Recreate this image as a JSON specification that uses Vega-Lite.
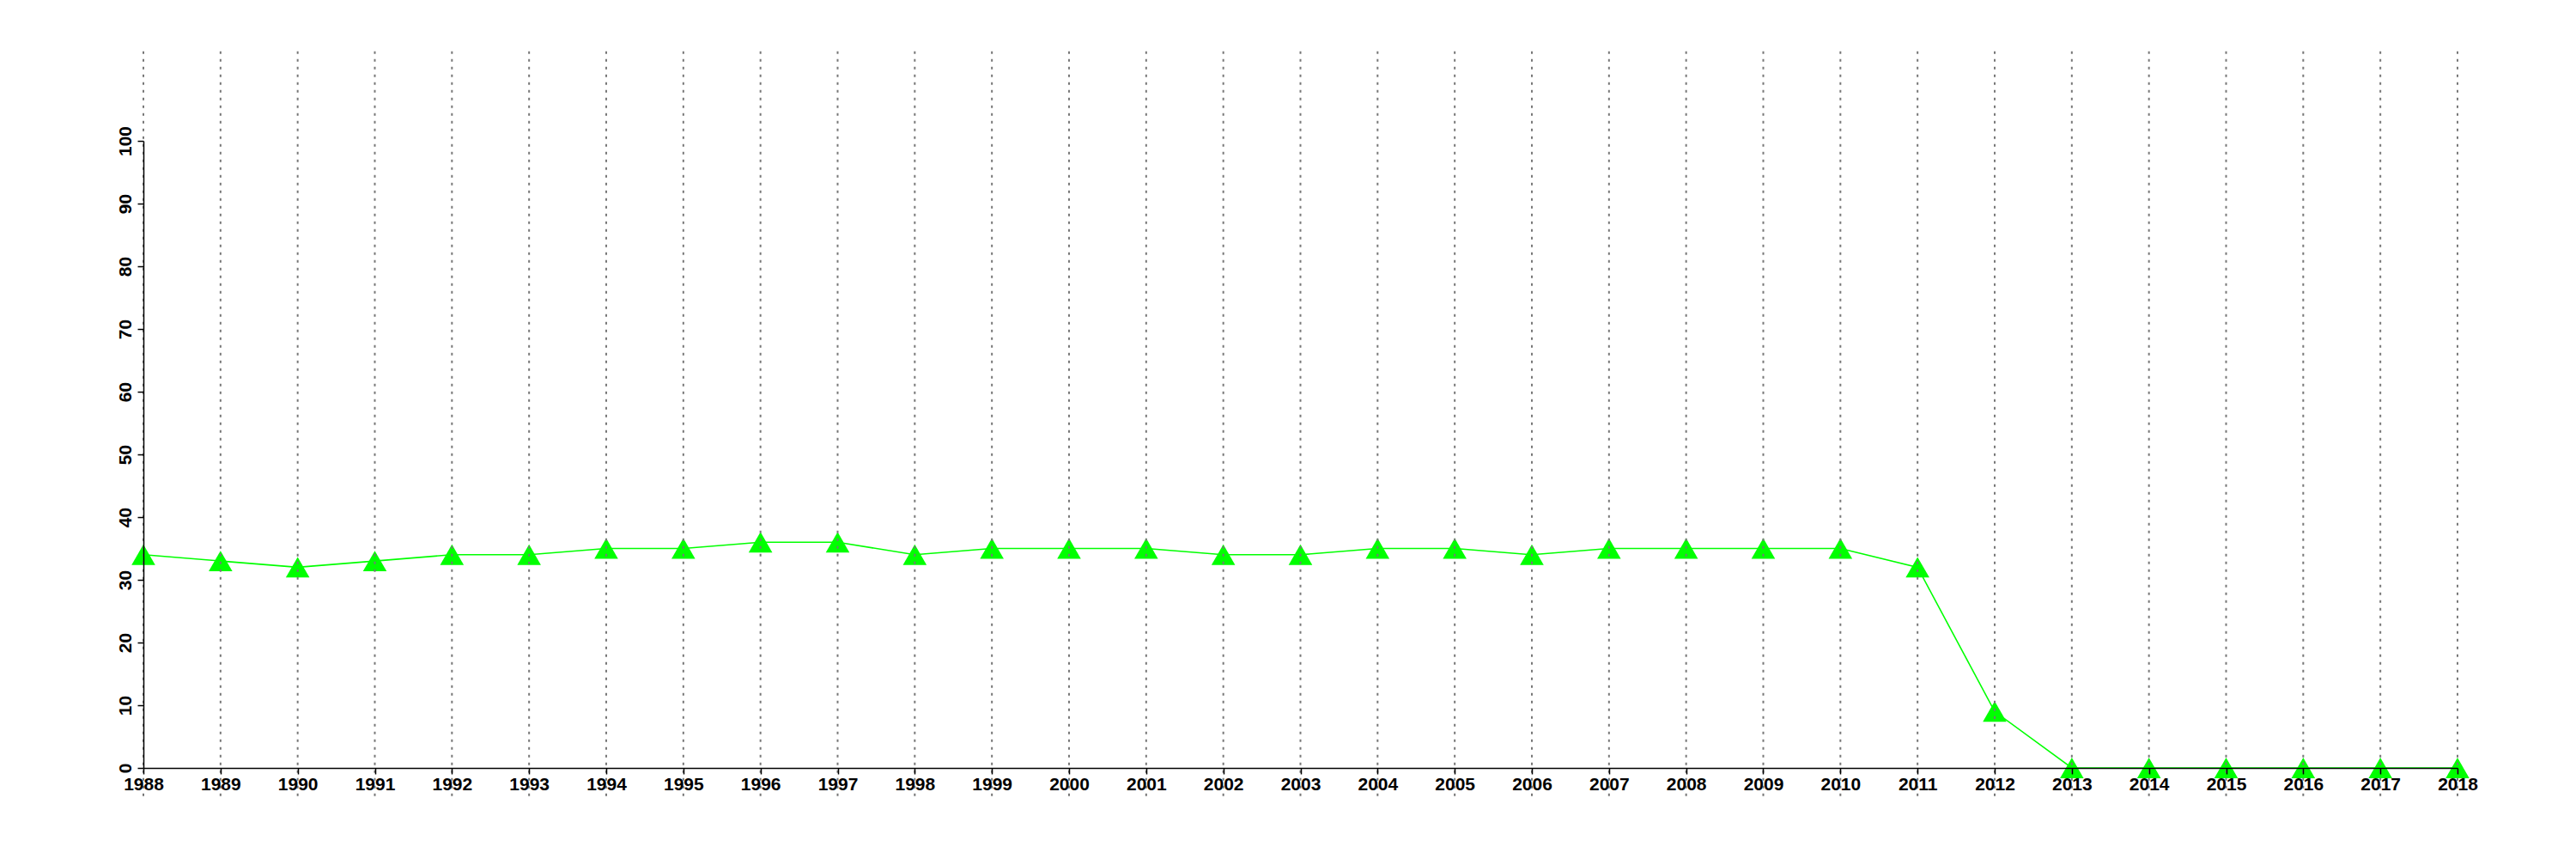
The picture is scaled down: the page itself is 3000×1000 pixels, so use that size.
{
  "$schema": "https://vega.github.io/schema/vega-lite/v6.json",
  "autosize": {"type": "none"},
  "padding": {"left": 167, "top": 164, "right": 138, "bottom": 106},
  "width": 2695,
  "height": 730,
  "background": "white",
  "config": {
    "view": {"stroke": null},
    "axis": {
      "labelFont": "Liberation Sans",
      "labelFontSize": 21,
      "labelFontWeight": "bold",
      "labelColor": "black",
      "tickColor": "black",
      "tickSize": 7,
      "tickWidth": 1.5,
      "domainColor": "black",
      "domainWidth": 1.5,
      "grid": false,
      "title": null
    }
  },
  "data": {
    "values": [
      {"year": 1988, "value": 34},
      {"year": 1989, "value": 33},
      {"year": 1990, "value": 32},
      {"year": 1991, "value": 33},
      {"year": 1992, "value": 34},
      {"year": 1993, "value": 34},
      {"year": 1994, "value": 35},
      {"year": 1995, "value": 35},
      {"year": 1996, "value": 36},
      {"year": 1997, "value": 36},
      {"year": 1998, "value": 34},
      {"year": 1999, "value": 35},
      {"year": 2000, "value": 35},
      {"year": 2001, "value": 35},
      {"year": 2002, "value": 34},
      {"year": 2003, "value": 34},
      {"year": 2004, "value": 35},
      {"year": 2005, "value": 35},
      {"year": 2006, "value": 34},
      {"year": 2007, "value": 35},
      {"year": 2008, "value": 35},
      {"year": 2009, "value": 35},
      {"year": 2010, "value": 35},
      {"year": 2011, "value": 32},
      {"year": 2012, "value": 9},
      {"year": 2013, "value": 0},
      {"year": 2014, "value": 0},
      {"year": 2015, "value": 0},
      {"year": 2016, "value": 0},
      {"year": 2017, "value": 0},
      {"year": 2018, "value": 0}
    ]
  },
  "layer": [
    {
      "mark": {"type": "line", "color": "#00FF00", "strokeWidth": 1.6},
      "encoding": {
        "x": {
          "field": "year", "type": "quantitative",
          "scale": {"domain": [1988, 2018], "nice": false, "zero": false},
          "axis": {
            "values": [1988,1989,1990,1991,1992,1993,1994,1995,1996,1997,1998,1999,2000,2001,2002,2003,2004,2005,2006,2007,2008,2009,2010,2011,2012,2013,2014,2015,2016,2017,2018],
            "format": "d",
            "labelPadding": 1,
            "labelFlush": false,
            "labelOverlap": false,
            "zindex": 1
          }
        },
        "y": {
          "field": "value", "type": "quantitative",
          "scale": {"domain": [0, 100], "nice": false},
          "axis": {
            "values": [0,10,20,30,40,50,60,70,80,90,100],
            "labelAngle": 270,
            "labelAlign": "center",
            "labelBaseline": "bottom",
            "labelPadding": 4,
            "labelFlush": false,
            "labelOverlap": false,
            "zindex": 1
          }
        }
      }
    },
    {
      "mark": {"type": "point", "shape": "triangle-up", "filled": true, "color": "#00FF00", "opacity": 1, "size": 760},
      "encoding": {
        "x": {"field": "year", "type": "quantitative"},
        "y": {"field": "value", "type": "quantitative"}
      }
    },
    {
      "mark": {"type": "rule", "color": "#777777", "strokeWidth": 2, "strokeDash": [3, 6]},
      "encoding": {
        "x": {"field": "year", "type": "quantitative"},
        "y": {"datum": -4.5},
        "y2": {"datum": 114.4}
      }
    }
  ]
}
